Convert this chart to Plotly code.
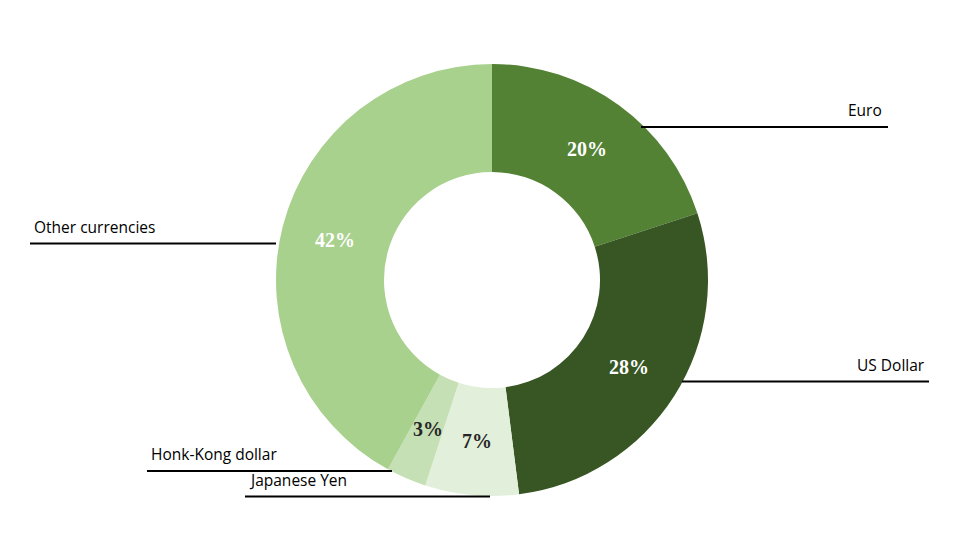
import math
import plotly.graph_objects as go

# ---- data ----
currencies = ["Euro", "US Dollar", "Japanese Yen", "Honk-Kong dollar", "Other currencies"]
shares = [20, 28, 7, 3, 42]

# ---- styles ----
slice_colors = ["#548235", "#375623", "#E2EFDA", "#C5E0B4", "#A9D18E"]
pct_colors = ["white", "white", "#262626", "#262626", "white"]

OFF = 8  # page body margin of the browser
W, H = 971 - OFF, 559 - OFF

# donut geometry (reference pixel coords)
CX, CY, R_OUT, HOLE = 492, 280, 216, 0.5

# leader-line layout in reference pixels: (y_line, x_start, x_end, text side, text gap)
leaders = {
    "Euro": (127, 641, 888, "right", 4),
    "US Dollar": (381.5, 682, 929, "right", 2),
    "Japanese Yen": (496.5, 245, 490, "left", 2),
    "Honk-Kong dollar": (471, 147, 392, "left", 2),
    "Other currencies": (243.5, 30, 276, "left", 2),
}


def px(x):
    return (x - OFF) / W


def py(y):
    return 1 - (y - OFF) / H


fig = go.Figure(go.Pie(
    labels=currencies,
    values=shares,
    sort=False,
    direction="clockwise",
    rotation=0,
    hole=HOLE,
    marker=dict(colors=slice_colors, line=dict(color="white", width=0)),
    textinfo="none",
    showlegend=False,
    hoverinfo="label+percent",
    domain=dict(x=[px(CX - R_OUT), px(CX + R_OUT)], y=[py(CY + R_OUT), py(CY - R_OUT)]),
))

shapes = []
annotations = []

# percentage labels at the middle of each ring segment
total = sum(shares)
cum = 0
r_mid = R_OUT * (1 + HOLE) / 2
for name, v, col in zip(currencies, shares, pct_colors):
    ang = 2 * math.pi * (cum + v / 2) / total
    cum += v
    x = CX + r_mid * math.sin(ang)
    y = CY - r_mid * math.cos(ang)
    annotations.append(dict(text=f"<b>{v}%</b>", xref="paper", yref="paper",
                            x=px(x), y=py(y), xanchor="center", yanchor="middle",
                            showarrow=False,
                            font=dict(family="Liberation Serif", size=20, color=col)))

for name in currencies:
    y, x0, x1, side, gap = leaders[name]
    shapes.append(dict(type="line", xref="paper", yref="paper",
                       x0=px(x0), x1=px(x1), y0=py(y), y1=py(y),
                       line=dict(color="black", width=2)))
    ax = (x1 - gap) if side == "right" else (x0 + gap)
    annotations.append(dict(text=name, xref="paper", yref="paper",
                            x=px(ax), y=py(y - 4),
                            xanchor=side, yanchor="bottom", showarrow=False,
                            font=dict(family="Open Sans", size=15.5, color="black")))

fig.update_layout(
    width=W, height=H,
    margin=dict(l=0, r=0, t=0, b=0),
    paper_bgcolor="white",
    plot_bgcolor="white",
    shapes=shapes,
    annotations=annotations,
)

fig.write_html("out.html")
